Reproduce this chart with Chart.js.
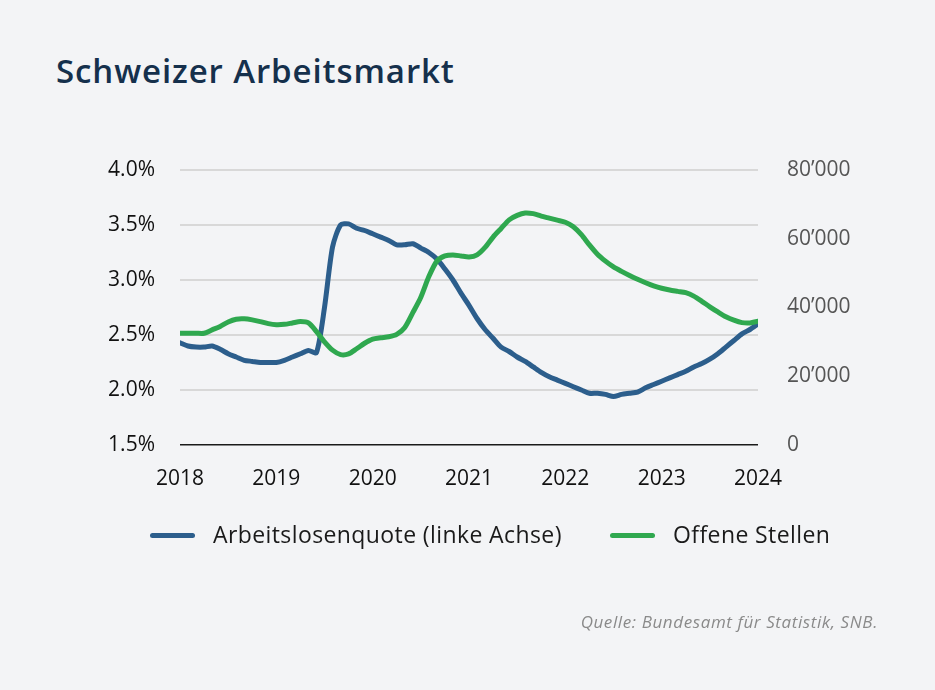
<!DOCTYPE html>
<html><head><meta charset="utf-8">
<script src="https://cdn.jsdelivr.net/npm/chart.js@4/dist/chart.umd.min.js"></script>
<style>
html,body{margin:0;padding:0;background:#f3f4f6;}
#wrap{position:relative;width:935px;height:690px;background:#f3f4f6;overflow:hidden;font-family:"Open Sans",sans-serif;}
#title{position:absolute;left:56px;top:48px;font-size:33px;font-weight:600;color:#15304c;letter-spacing:0.9px;}
#src{position:absolute;right:57px;top:610px;font-size:17px;font-style:italic;color:#8a8a8a;letter-spacing:0.6px;}
#legend{position:absolute;left:0;top:519px;width:935px;height:30px;}
.li{position:absolute;top:0;height:30px;line-height:30px;font-size:23px;color:#1a1a1a;white-space:nowrap;letter-spacing:0.4px;}
.sw{position:absolute;top:14px;width:45px;height:5px;border-radius:3px;}
canvas{position:absolute;left:0;top:0;}
</style></head>
<body><div id="wrap">
<div id="title">Schweizer Arbeitsmarkt</div>
<canvas id="c" width="935" height="690"></canvas>
<div id="legend"></div>
<div id="src">Quelle: Bundesamt für Statistik, SNB.</div>
</div>
<script>
const yearLabels = ["2018","2019","2020","2021","2022","2023","2024"];
const seriesNames = ["Arbeitslosenquote (linke Achse)","Offene Stellen"];
// monthly, Jan 2018 .. Jan 2024
const unemployment = [2.43,2.40,2.39,2.39,2.40,2.37,2.33,2.30,2.27,2.26,2.25,2.25,
2.25,2.27,2.30,2.33,2.36,2.34,2.75,3.30,3.50,3.51,3.47,3.45,
3.42,3.39,3.36,3.32,3.32,3.33,3.29,3.25,3.19,3.10,3.00,2.88,
2.77,2.65,2.55,2.47,2.39,2.35,2.30,2.26,2.21,2.16,2.12,2.09,
2.06,2.03,2.00,1.97,1.97,1.96,1.94,1.96,1.97,1.98,2.02,2.05,
2.08,2.11,2.14,2.17,2.21,2.24,2.28,2.33,2.39,2.45,2.51,2.55,2.60];
const vacancies = [32500,32500,32500,32500,33500,34500,35800,36600,36700,36400,35900,35300,
35000,35100,35500,35900,35500,33000,30000,27600,26300,26500,28000,29600,
30800,31200,31500,32200,34200,38500,43000,49000,53500,55000,55300,55000,
54700,55300,57500,60500,63000,65500,66800,67500,67300,66600,66000,65400,
64800,63500,61200,58200,55500,53500,51800,50500,49300,48200,47200,46300,
45600,45100,44700,44300,43300,41800,40200,38700,37300,36300,35600,35500,36000];
const leftTicks = [1.5,2.0,2.5,3.0,3.5,4.0];
const rightTicks = [0,20000,40000,60000,80000];
const colors = ["#2c5e8c","#2fa84f"];

const toPts = arr => arr.map((v,i)=>({x:i,y:v}));
const fmtK = v => v===0 ? "0" : (Math.round(v/1000)+"\u2019000");
const tickFont = {family:'Open Sans',size:21};

new Chart(document.getElementById('c'), {
  type:'line',
  data:{datasets:[
    {label:seriesNames[0],data:toPts(unemployment),yAxisID:'yL',borderColor:colors[0],backgroundColor:colors[0],borderWidth:5,pointRadius:0,tension:0.25,borderCapStyle:'round',borderJoinStyle:'round',order:2},
    {label:seriesNames[1],data:toPts(vacancies),yAxisID:'yR',borderColor:colors[1],backgroundColor:colors[1],borderWidth:5,pointRadius:0,tension:0.25,borderCapStyle:'round',borderJoinStyle:'round',order:1}
  ]},
  options:{
    responsive:false,animation:false,
    layout:{padding:{left:0,right:0,top:170,bottom:195}},
    plugins:{legend:{display:false},tooltip:{enabled:false}},
    scales:{
      x:{type:'linear',min:0,max:72,
        afterBuildTicks:s=>{s.ticks=yearLabels.map((l,i)=>({value:i*12}));},
        afterFit:s=>{s.height=50;},
        grid:{display:false,drawTicks:false},
        border:{display:false},
        ticks:{padding:21,color:'#111',font:tickFont,callback:(v)=>yearLabels[v/12]}},
      yL:{position:'left',min:1.5,max:4.0,
        afterBuildTicks:s=>{s.ticks=leftTicks.map(v=>({value:v}));},
        afterFit:s=>{s.width=180;},
        grid:{color:c=>c.tick&&c.tick.value===1.5?'#1a1a1a':'#d8d8d8',lineWidth:c=>c.tick&&c.tick.value===1.5?1.5:2,drawTicks:false},
        border:{display:false},
        ticks:{padding:25,color:'#111',font:tickFont,callback:v=>v.toFixed(1)+'%'}},
      yR:{position:'right',min:0,max:80000,
        afterBuildTicks:s=>{s.ticks=rightTicks.map(v=>({value:v}));},
        afterFit:s=>{s.width=177;},
        grid:{display:false,drawTicks:false},
        border:{display:false},
        ticks:{padding:29,color:'#555',font:tickFont,callback:v=>fmtK(v)}}
    }
  }
});

// HTML legend
const lg = document.getElementById('legend');
const pos = [150,610];
seriesNames.forEach((n,i)=>{
  const d=document.createElement('div');d.className='li';d.style.left=pos[i]+'px';
  d.innerHTML='<span class="sw" style="left:0;background:'+colors[i]+'"></span><span style="margin-left:63px">'+n+'</span>';
  lg.appendChild(d);
});
</script>
</body></html>
